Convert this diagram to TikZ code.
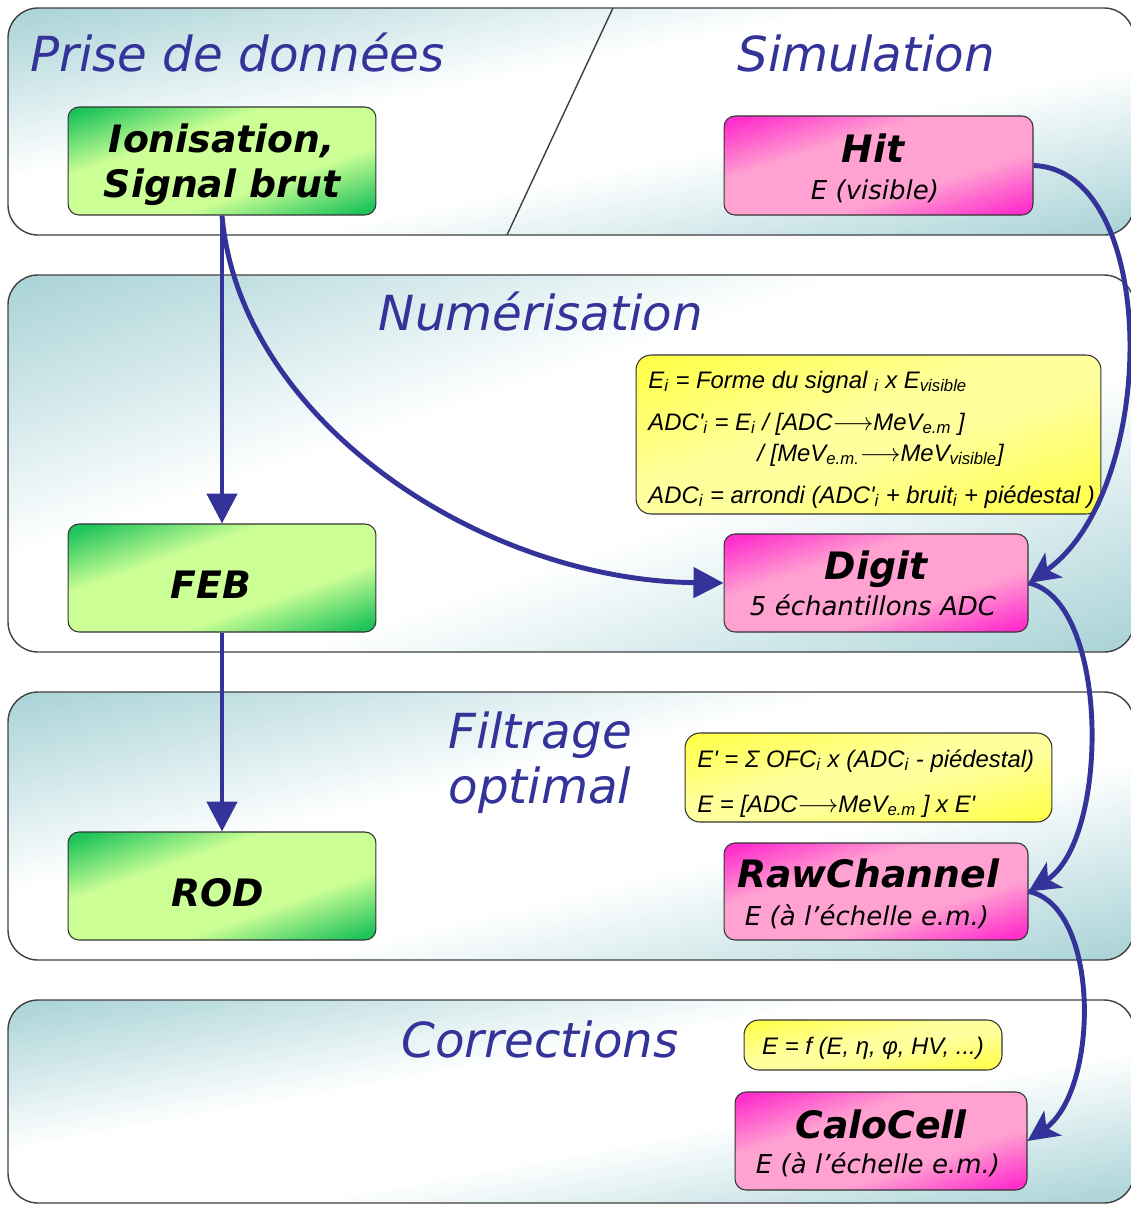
\documentclass[tikz,border=0pt]{standalone}
\usepackage{fontspec}
\setmainfont{DejaVu Sans}
\newfontfamily\fml{Liberation Sans}
\usetikzlibrary{arrows.meta}
\definecolor{ttlc}{RGB}{51,51,153}
\definecolor{arrc}{RGB}{51,51,153}
% diagonal shading: ends (top-left, bottom-right) get the dark colour, middle the base colour
\newcommand\mkdiag[9]{\pgfdeclarefunctionalshading{#1}{\pgfpoint{0bp}{0bp}}{\pgfpoint{100bp}{100bp}}{}{sub 50 add 100 div 0.5 sub abs 2 mul #2 sub #3 div dup abs add 2 div 1 exch sub dup abs add 2 div 1 exch sub dup #7 mul #4 add exch dup #8 mul #5 add exch #9 mul #6 add}}
\mkdiag{panelsh}{0.25}{0.7}{1}{1}{1}{-0.32}{-0.165}{-0.15}
\mkdiag{greensh}{0.36}{0.56}{0.8}{1}{0.588}{-0.682}{-0.235}{-0.235}
\mkdiag{pinksh}{0.36}{0.56}{1}{0.63}{0.82}{0}{-0.45}{-0.02}
\mkdiag{yellowsh}{0.15}{0.8}{1}{1}{0.62}{0}{0}{-0.34}
\newcommand\sbx[1]{\textsubscript{#1}}
\newcommand\arw{\ensuremath{\longrightarrow}}
\tikzset{
  panelbox/.style={draw=black!75, line width=0.8pt, rounded corners=0.6cm, shade, shading=panelsh},
  boxbase/.style={draw=black!80, line width=0.6pt, rounded corners=0.22cm, shade, inner sep=0},
  gbox/.style={boxbase, shading=greensh, minimum width=6.16cm, minimum height=2.16cm},
  pbox/.style={boxbase, shading=pinksh},
  ybox/.style={boxbase, shading=yellowsh, rounded corners=0.3cm},
  ttl/.style={text=ttlc, font=\fontsize{27.5}{30}\selectfont\itshape, inner sep=0, anchor=base},
  lbl/.style={font=\fontsize{21.5}{24}\selectfont\bfseries\itshape, inner sep=0, anchor=base},
  sublbl/.style={font=\fontsize{14.8}{17}\selectfont\itshape, inner sep=0, anchor=base},
  fm/.style={font=\fml\fontsize{13.6}{16}\selectfont\itshape, inner sep=0, anchor=base west},
  flow/.style={draw=arrc, line width=2.8pt},
  straighttip/.style={-{Triangle[length=0.6cm, width=0.6cm]}},
  curvetip/.style={-{Stealth[length=0.62cm, width=0.6cm, inset=0.16cm]}},
}
\begin{document}
\begin{tikzpicture}[x=0.02cm, y=-0.02cm]
\useasboundingbox (0,0) rectangle (1131,1205);
\clip (0,0) rectangle (1131,1205);
\fill[white] (0,0) rectangle (1131,1205);
% panels
\path[panelbox] (8,8) rectangle (1134,235);
\draw[black!75, line width=0.8pt] (613,8) -- (507,235);
\path[panelbox] (8,275) rectangle (1134,652);
\path[panelbox] (8,692) rectangle (1134,960);
\path[panelbox] (8,1000) rectangle (1134,1203);
% titles
\node[ttl, anchor=base west] (tprise) at (30,71) {Prise de données};
\node[ttl] (tsim) at (866,71) {Simulation};
\node[ttl] (tnum) at (541,330) {Numérisation};
\node[ttl] (tfil) at (540,748) {Filtrage};
\node[ttl] (topt) at (540,803) {optimal};
\node[ttl] (tcor) at (540,1057) {Corrections};
% green boxes
\node[gbox] (ion) at (222,161) {};
\node[gbox] (feb) at (222,578) {};
\node[gbox] (rod) at (222,886) {};
\node[lbl] (lion1) at (222,152) {Ionisation,};
\node[lbl] (lion2) at (222,197) {Signal brut};
\node[lbl] (lfeb) at (211,598) {FEB};
\node[lbl] (lrod) at (218,906) {ROD};
% pink boxes
\node[pbox, minimum width=6.18cm, minimum height=1.98cm] (hit) at (878.5,165.5) {};
\node[pbox, minimum width=6.08cm, minimum height=1.96cm] (digit) at (876,583) {};
\node[pbox, minimum width=6.08cm, minimum height=1.94cm] (raw) at (876,891.5) {};
\node[pbox, minimum width=5.84cm, minimum height=1.96cm] (calo) at (881,1141) {};
\node[lbl] (lhit) at (873,162) {Hit};
\node[sublbl] (shit) at (875,199) {E (visible)};
\node[lbl] (ldig) at (876,579) {Digit};
\node[sublbl] (sdig) at (873,615) {5 échantillons ADC};
\node[lbl] (lraw) at (868,887) {RawChannel};
\node[sublbl] (sraw) at (867,925) {E (à l'échelle e.m.)};
\node[lbl] (lcal) at (881,1138) {CaloCell};
\node[sublbl] (scal) at (878,1173) {E (à l'échelle e.m.)};
% yellow boxes
\node[ybox, minimum width=9.3cm, minimum height=3.18cm] (y1) at (868.5,434.5) {};
\node[ybox, minimum width=7.34cm, minimum height=1.78cm] (y2) at (868.5,777.5) {};
\node[ybox, minimum width=5.16cm, minimum height=1.0cm] (y3) at (873,1045) {};
\node[fm] (f1) at (648,388) {E\sbx{i} = Forme du signal \sbx{i} x E\sbx{visible}};
\node[fm] (f2) at (648,430) {ADC'\sbx{i} = E\sbx{i} / [ADC\arw MeV\sbx{e.m} ]};
\node[fm] (f3) at (757,461) {/ [MeV\sbx{e.m.}\arw MeV\sbx{visible}]};
\node[fm] (f4) at (648,503) {ADC\sbx{i} = arrondi (ADC'\sbx{i} + bruit\sbx{i} + piédestal )};
\node[fm] (f5) at (697,767) {E' = Σ OFC\sbx{i} x (ADC\sbx{i} - piédestal)};
\node[fm] (f6) at (697,812) {E = [ADC\arw MeV\sbx{e.m} ] x E'};
\node[fm, anchor=base] (f7) at (873,1054) {E = f (E, η, φ, HV, ...)};
% connectors
\draw[flow, straighttip] (ion.south) -- (feb.north);
\draw[flow, straighttip] (feb.south) -- (rod.north);
\draw[flow, straighttip] (ion.south) .. controls (240,420) and (480,580) .. (digit.west);
\draw[flow, curvetip] (hit.east) .. controls (1160,170) and (1160,490) .. (digit.east);
\draw[flow, curvetip] (digit.east) .. controls (1110,600) and (1110,840) .. (raw.east);
\draw[flow, curvetip] (raw.east) .. controls (1100,905) and (1100,1090) .. (calo.east);
\end{tikzpicture}
\end{document}
